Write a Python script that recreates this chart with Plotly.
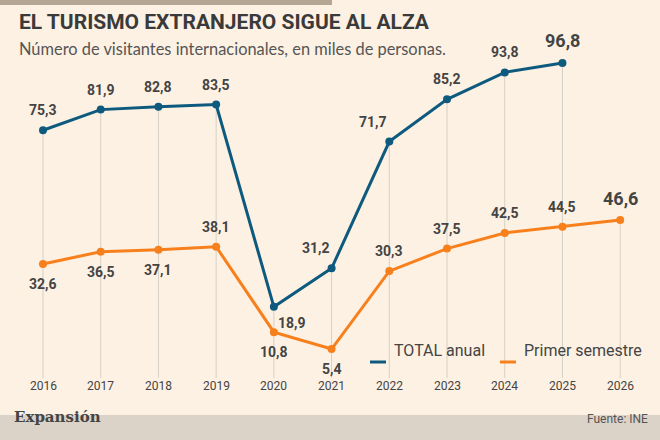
import plotly.graph_objects as go

years = list(range(2016, 2027))
total = [75.3, 81.9, 82.8, 83.5, 18.9, 31.2, 71.7, 85.2, 93.8, 96.8]
semestre = [32.6, 36.5, 37.1, 38.1, 10.8, 5.4, 30.3, 37.5, 42.5, 44.5, 46.6]
total_pos = ["top", "top", "top", "top", "br", "tl", "tl", "top", "top", "top"]
sem_pos = ["bot", "bot", "bot", "top", "bot", "bot", "top", "top", "top", "top", "top"]
series_names = ["TOTAL anual", "Primer semestre"]

BLUE = "#0e5a7e"; ORANGE = "#f7801d"; TXT = "#444444"
FONT = "Roboto, sans-serif"
ylo, yhi = -3.85, 100.95
H = 328.0

fig = go.Figure()
for i, y in enumerate(years):
    top = max(semestre[i], total[i] if i < len(total) else 0)
    fig.add_shape(type="line", x0=y, x1=y, y0=ylo, y1=top, line=dict(color="#d6d0c6", width=1), layer="below")

fig.add_trace(go.Scatter(x=years[:len(total)], y=total, name=series_names[0], mode="lines+markers",
                         line=dict(color=BLUE, width=3), marker=dict(size=8, color=BLUE)))
fig.add_trace(go.Scatter(x=years, y=semestre, name=series_names[1], mode="lines+markers",
                         line=dict(color=ORANGE, width=3), marker=dict(size=8, color=ORANGE)))

def lab(x, y, pos, big):
    fs = 18 if big else 14
    d = dict(x=x, y=y, text=f"{y:.1f}".replace(".", ","), showarrow=False,
             font=dict(family=FONT, size=fs, color=TXT, weight="bold"))
    if pos == "top": d.update(yshift=22 if big else 20)
    elif pos == "bot": d.update(yshift=-20)
    elif pos == "br": d.update(yshift=-16, xshift=18)
    elif pos == "tl": d.update(yshift=20, xshift=-16)
    fig.add_annotation(**d)

for i, v in enumerate(total): lab(years[i], v, total_pos[i], i == len(total) - 1)
for i, v in enumerate(semestre): lab(years[i], v, sem_pos[i], i == len(semestre) - 1)

for y in years:
    fig.add_annotation(x=y, y=0, yref="paper", yshift=-17, text=str(y), showarrow=False,
                       font=dict(family=FONT, size=12, color=TXT))

for name, col, x0 in [(series_names[0], BLUE, 370 / 660), (series_names[1], ORANGE, 500 / 660)]:
    fig.add_shape(type="line", xref="paper", yref="paper", x0=x0, x1=x0 + 16 / 660, y0=16 / H, y1=16 / H,
                  line=dict(color=col, width=3))
    fig.add_annotation(xref="paper", yref="paper", x=x0 + 22 / 660, y=16 / H, xanchor="left", showarrow=False,
                       text=name, font=dict(family=FONT, size=16, color=TXT))

fig.add_shape(type="rect", xref="paper", yref="paper", x0=0, x1=0.503, y0=1 + 45 / H, y1=1 + 50 / H,
              fillcolor="#b5a593", line_width=0)
fig.add_shape(type="rect", xref="paper", yref="paper", x0=0, x1=1, y0=-62 / H, y1=-37 / H,
              fillcolor="#dcd3c8", line_width=0)
fig.add_annotation(xref="paper", yref="paper", x=17 / 660, y=1 + 28 / H, yanchor="middle", xanchor="left", showarrow=False,
                   text="<b>EL TURISMO EXTRANJERO SIGUE AL ALZA</b>",
                   font=dict(family=FONT, size=21, color="#3a3a3a"))
fig.add_annotation(xref="paper", yref="paper", x=17 / 660, y=1 + 2 / H, yanchor="middle", xanchor="left", showarrow=False,
                   text="Número de visitantes internacionales, en miles de personas.",
                   font=dict(family="Lato, sans-serif", size=16.4, color="#555555"))
fig.add_annotation(xref="paper", yref="paper", x=12 / 660, y=-50 / H, xanchor="left", showarrow=False,
                   text="<b>Expansión</b>", font=dict(family="DejaVu Serif, serif", size=15, color="#444444"))
fig.add_annotation(xref="paper", yref="paper", x=650 / 660, y=-50 / H, xanchor="right", showarrow=False,
                   text="Fuente: INE", font=dict(family=FONT, size=12, color="#555555"))

fig.update_layout(
    width=660, height=440, margin=dict(l=0, r=0, t=50, b=62),
    paper_bgcolor="#fdf1e3", plot_bgcolor="#fdf1e3",
    xaxis=dict(range=[2015.255, 2026.69], visible=False),
    yaxis=dict(range=[ylo, yhi], visible=False),
    showlegend=False,
)
fig.write_html("out.html", config={"displayModeBar": False})
with open("out.html", encoding="utf-8") as f:
    html = f.read()
html = html.replace("<head>", "<head><style>html,body{margin:0;padding:0;overflow:hidden}</style>", 1)
with open("out.html", "w", encoding="utf-8") as f:
    f.write(html)
